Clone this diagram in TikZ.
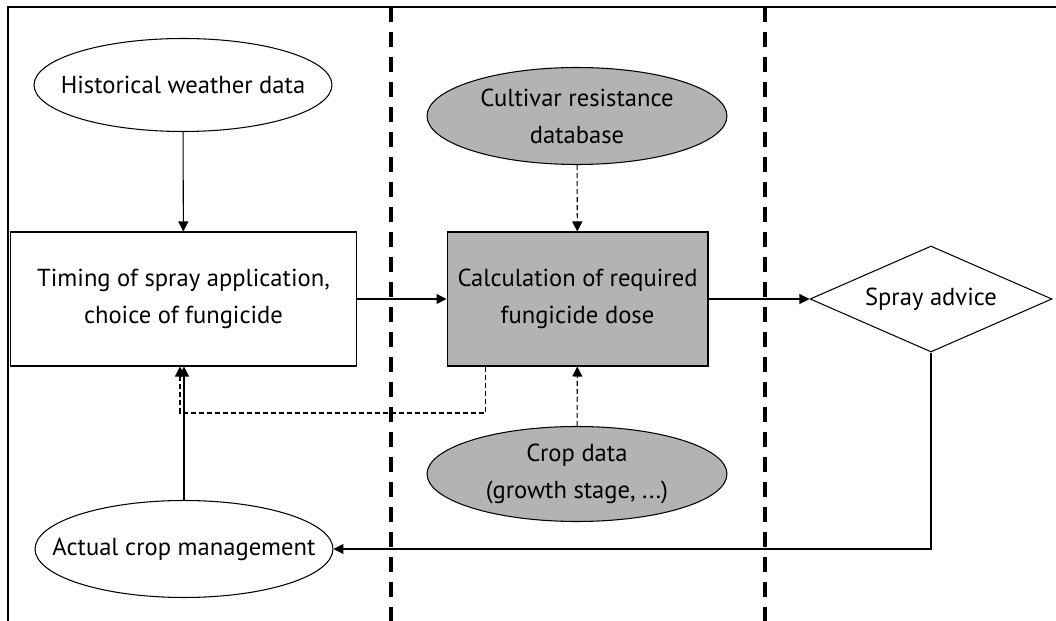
\documentclass[tikz,border=0pt]{standalone}
\usepackage{fontspec}
\setmainfont{PT Sans}
\usepackage{tikz}
\usetikzlibrary{arrows.meta, positioning, shapes.geometric}
\usepackage{xcolor}
\definecolor{shade}{HTML}{B3B3B3}

\begin{document}
\begin{tikzpicture}[x=0.02cm, y=-0.02cm, font=\fontsize{14}{21}\selectfont,
    oval/.style={draw, ellipse, inner ysep=0pt, inner xsep=-2cm, minimum width=5.96cm, minimum height=1.86cm, align=center, line width=0.6pt},
    box/.style={draw, rectangle, inner sep=0pt, minimum height=2.68cm, align=center, line width=0.6pt},
    diamondbox/.style={draw, diamond, inner sep=0pt, minimum width=4.84cm, minimum height=2.12cm, line width=0.6pt},
    arr/.style={line width=0.6pt, -{Triangle[length=0.2cm, width=0.2cm]}},
    dasharr/.style={arr, dash pattern=on 0.1cm off 0.06cm},
    divider/.style={line width=2.3pt, dash pattern=on 0.3cm off 0.2cm}]
  \useasboundingbox (0,0) rectangle (1056,621);
  % frame and column dividers
  \draw[line width=1.1pt] (8,621) -- (8,7) -- (1056,7);
  \draw[divider] (391,7) -- (391,621);
  \draw[divider] (765,7) -- (765,621);
  % nodes
  \node (hist) [oval] at (183,85) {Historical weather data};
  \node (timing) [box, minimum width=6.94cm] at (183.5,299) {Timing of spray application,\\choice of fungicide};
  \node (calc) [box, fill=shade, minimum width=5.22cm] at (577.5,299) {Calculation of required\\fungicide dose};
  \node (cult) [oval, fill=shade, minimum width=6cm, minimum height=1.94cm] at (577,116) {Cultivar resistance\\database};
  \node (crop) [oval, fill=shade, minimum width=6cm, minimum height=1.9cm] at (577,474) {Crop data\\(growth stage, ...)};
  \node (spray) [diamondbox, label=center:Spray advice] at (931,299) {};
  \node (act) [oval, minimum height=1.94cm] at (184,549) {Actual crop management};
  \coordinate (fb) at (180,413);
  % connectors
  \draw[arr] (hist) -- (timing);
  \draw[arr] (timing) -- (calc);
  \draw[arr] (calc) -- (spray);
  \draw[dasharr] (cult) -- (calc);
  \draw[dasharr] (crop) -- (calc);
  \draw[dasharr] ([xshift=0.78cm]calc.south west) |- (fb) -- (fb |- timing.south);
  \draw[arr] (act) -- (act |- timing.south);
  \draw[arr] (spray.south) |- (act.east);
\end{tikzpicture}
\end{document}
